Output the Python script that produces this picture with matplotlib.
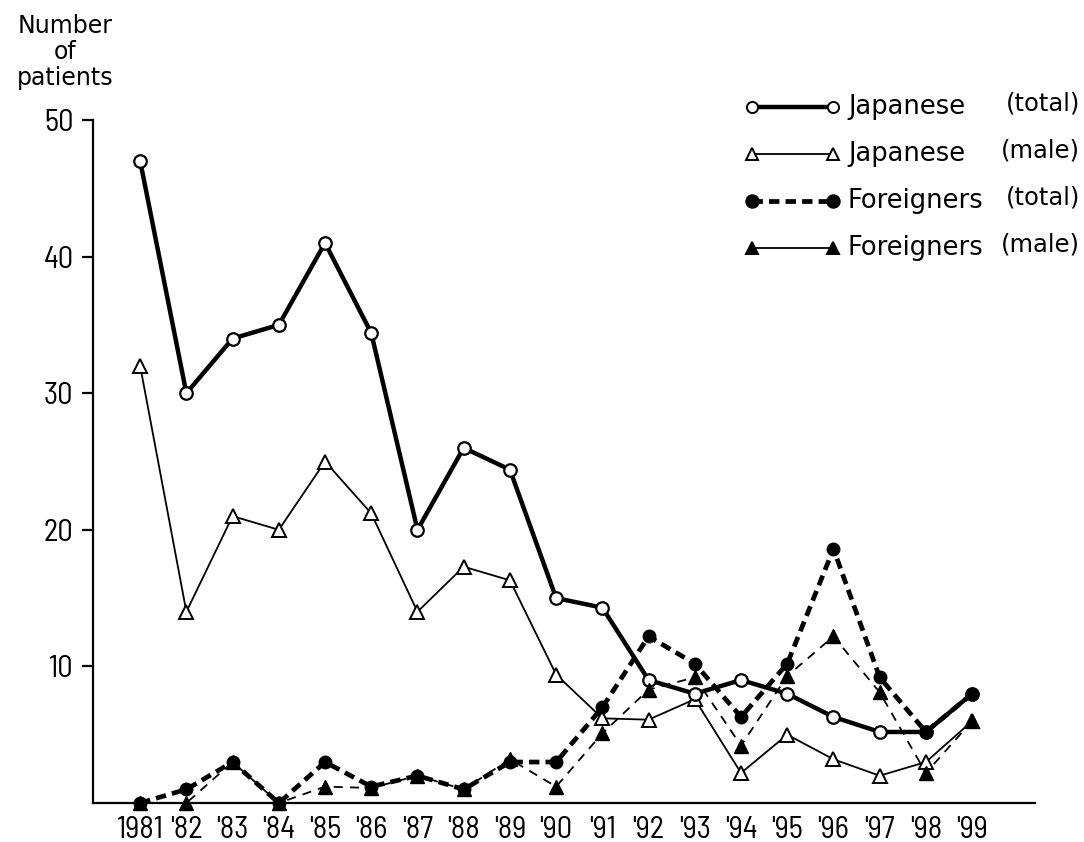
import matplotlib
matplotlib.use("Agg")
import matplotlib.pyplot as plt
from matplotlib.lines import Line2D

years = list(range(1981, 2000))
year_labels = ["1981", "'82", "'83", "'84", "'85", "'86", "'87", "'88", "'89", "'90",
               "'91", "'92", "'93", "'94", "'95", "'96", "'97", "'98", "'99"]

jp_total = [47, 30, 34, 35, 41, 34.4, 20, 26, 24.4, 15, 14.3, 9, 8, 9, 8, 6.3, 5.2, 5.2, 8]
jp_male = [32, 14, 21, 20, 25, 21.2, 14, 17.3, 16.3, 9.4, 6.2, 6.1, 7.6, 2.2, 5, 3.2, 2, 3, 6]
fo_total = [0, 1, 3, 0, 3, 1.2, 2, 1, 3, 3, 7, 12.2, 10.2, 6.3, 10.2, 18.6, 9.2, 5.2, 8]
fo_male = [0, 0, 3, 0, 1.2, 1.1, 2, 1, 3.2, 1.2, 5.1, 8.3, 9.2, 4.2, 9.3, 12.2, 8.1, 2.2, 6]

yticks = [10, 20, 30, 40, 50]

cond = ["Barlow Semi Condensed", "DejaVu Sans"]

fig = plt.figure(figsize=(10.84, 8.42), dpi=100)
ax = fig.add_axes([0.0858, 0.0463, 0.869, 0.8112])

ax.plot(years, jp_total, color="black", lw=3.2, marker="o", ms=9,
        mfc="white", mec="black", mew=1.6, clip_on=False, zorder=4)
ax.plot(years, jp_male, color="black", lw=1.3, marker="^", ms=10,
        mfc="white", mec="black", mew=1.4, clip_on=False, zorder=3)
ax.plot(years, fo_total, color="black", lw=3.4, ls=(0, (2.2, 1.3)), marker="o", ms=9,
        mfc="black", mec="black", clip_on=False, zorder=5)
ax.plot(years, fo_male, color="black", lw=1.3, ls=(0, (5, 4)), marker="^", ms=10,
        mfc="black", mec="black", clip_on=False, zorder=5)

ax.set_xlim(1979.98, 2000.36)
ax.set_ylim(0, 50)
for s in ["top", "right"]:
    ax.spines[s].set_visible(False)
ax.spines["left"].set_linewidth(1.6)
ax.spines["bottom"].set_linewidth(1.6)
ax.set_yticks(yticks)
ax.set_yticklabels([str(v) for v in yticks], fontsize=22, family=cond)
ax.tick_params(axis="y", direction="out", length=8, width=1.6, pad=6)
ax.set_xticks(years)
ax.set_xticklabels(year_labels, fontsize=22, family=cond)
ax.tick_params(axis="x", length=0, pad=9)

fig.text(0.06, 1 - 14 / 842, "Number\nof\npatients", ha="center", va="top",
         fontsize=17, linespacing=1.1)

# legend drawn by hand
leg = [
    ("Japanese", "(total)", dict(lw=3.2, ls="-", marker="o", mfc="white", ms=8)),
    ("Japanese", "(male)", dict(lw=1.3, ls="-", marker="^", mfc="white", ms=9)),
    ("Foreigners", "(total)", dict(lw=3.4, ls=(0, (2.2, 1.3)), marker="o", mfc="black", ms=9)),
    ("Foreigners", "(male)", dict(lw=1.3, ls="-", marker="^", mfc="black", ms=9)),
]
y0 = 1 - 107 / 842
dy = 47 / 842
for i, (a, b, st) in enumerate(leg):
    y = y0 - i * dy
    fig.add_artist(Line2D([752 / 1084, 833 / 1084], [y, y], transform=fig.transFigure,
                          color="black", mec="black", mew=1.4, markevery=[0, 1], **st))
    fig.text(848 / 1084, y, a, ha="left", va="center", fontsize=18.5)
    fig.text(1080 / 1084, y + 0.004, b, ha="right", va="center", fontsize=17.5)

fig.savefig("out.png", dpi=100, facecolor="white")
